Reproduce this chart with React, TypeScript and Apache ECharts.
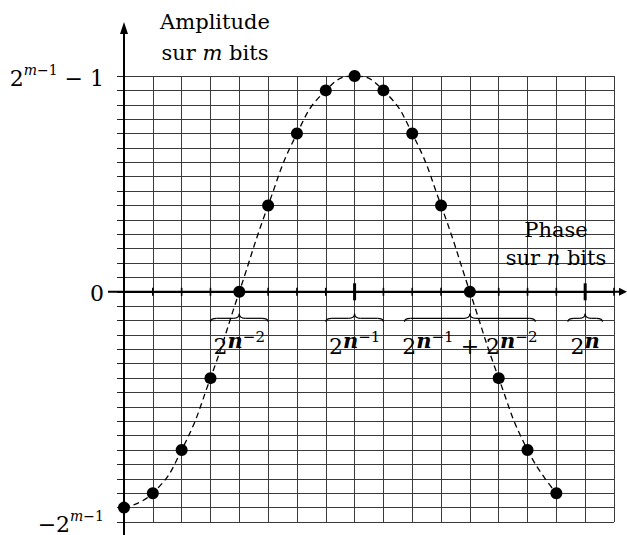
import React, { useEffect, useRef } from "react";
import * as echarts from "echarts";

// ---- data ----
const phaseSteps = [0, 1, 2, 3, 4, 5, 6, 7, 8, 9, 10, 11, 12, 13, 14, 15];
const amplitudes = [-15, -14, -11, -6, 0, 6, 11, 14, 15, 14, 11, 6, 0, -6, -11, -14];
const xMin = 0;
const xMax = 17;
const yMin = -16;
const yMax = 15;
const yTickLabels: Record<string, string> = {
  "15": "{b|2}{si|m}{s|−1}{b| − 1}",
  "0": "{b|0}",
  "-16": "{b|−2}{si|m}{s|−1}",
};
const xLabelTicks = [4, 8, 12, 16];
const xTickLabels = [
  "{b|2}{n|n}{s|−2}",
  "{b|2}{n|n}{s|−1}",
  "{b|2}{n|n}{s|−1}{b| + 2}{n|n}{s|−2}",
  "{b|2}{n|n}",
];
const braceRanges = [
  [3, 4, 5],
  [7, 8, 9],
  [9.73, 12, 14.27],
  [15.4, 16, 16.6],
];
const majorTicks = [8, 16];
const minorTicks = [1, 2, 3, 4, 5, 6, 7, 9, 10, 11, 12, 13, 14, 15, 17];

const FONT = "DejaVu Serif";
const BLUE = "#0a0aff";

export default function App() {
  const ref = useRef<HTMLDivElement>(null);
  useEffect(() => {
    document.body.style.margin = "0";
    const chart = echarts.init(ref.current!, null, { renderer: "svg" });
    const gridColor = "#3a3a3a";
    chart.setOption({
      animation: false,
      backgroundColor: "#fff",
      grid: { left: 124, right: 13, top: 76, bottom: 13, containLabel: false, outerBoundsMode: "none" },
      xAxis: {
        type: "value",
        min: xMin,
        max: xMax,
        interval: 1,
        axisLine: { show: true, onZero: true, lineStyle: { color: "#000", width: 2 } },
        axisTick: { show: false },
        splitLine: { show: true, lineStyle: { color: gridColor, width: 1 } },
        axisLabel: { show: false },
      },
      yAxis: {
        type: "value",
        min: yMin,
        max: yMax,
        interval: 1,
        axisLine: { show: false, onZero: true },
        axisTick: { show: true, length: 7, lineStyle: { color: "#222", width: 1 } },
        splitLine: { show: true, lineStyle: { color: gridColor, width: 1 } },
        axisLabel: {
          show: true,
          margin: 20,
          formatter: (v: number) => yTickLabels[String(v)] || "",
          rich: {
            b: { fontFamily: FONT, fontSize: 22, lineHeight: 26, verticalAlign: "bottom", color: "#000" },
            si: { fontFamily: FONT, fontSize: 14, fontStyle: "italic", lineHeight: 12, verticalAlign: "top", color: "#000" },
            s: { fontFamily: FONT, fontSize: 14, lineHeight: 12, verticalAlign: "top", color: "#000" },
          },
        },
      },
      series: [
        {
          type: "line",
          data: phaseSteps.map((x, i) => [x, amplitudes[i]]),
          smooth: 0.5,
          symbol: "circle",
          symbolSize: 12,
          itemStyle: { color: "#000" },
          lineStyle: { color: "#000", width: 1.3, type: [6, 4] },
          z: 5,
        },
      ],
    });

    const px = (x: number, y: number) => chart.convertToPixel({ gridIndex: 0 }, [x, y]) as number[];
    const [x0, y0] = px(0, 0);
    const graphics: any[] = [];
    const stroke = { stroke: "#000", lineWidth: 2 };
    // x axis extended with arrow
    graphics.push({ type: "line", z: 10, shape: { x1: x0 - 16, y1: y0, x2: 622, y2: y0 }, style: stroke });
    graphics.push({ type: "polygon", z: 10, shape: { points: [[627, y0], [619, y0 - 4], [619, y0 + 4]] }, style: { fill: "#000" } });
    // y axis extended with arrow
    graphics.push({ type: "line", z: 10, shape: { x1: x0, y1: 535, x2: x0, y2: 30 }, style: stroke });
    graphics.push({ type: "polygon", z: 10, shape: { points: [[x0, 22], [x0 - 4, 34], [x0 + 4, 34]] }, style: { fill: "#000" } });
    // ticks on x axis
    minorTicks.forEach((t) => {
      const [x] = px(t, 0);
      graphics.push({ type: "line", z: 10, shape: { x1: x, y1: y0 - 4, x2: x, y2: y0 + 4 }, style: { stroke: "#000", lineWidth: 1.6 } });
    });
    majorTicks.forEach((t) => {
      const [x] = px(t, 0);
      graphics.push({ type: "line", z: 10, shape: { x1: x, y1: y0 - 8.5, x2: x, y2: y0 + 8.5 }, style: { stroke: "#000", lineWidth: 3 } });
    });
    // braces
    const yE = y0 + 30;
    const yM = y0 + 26.5;
    const yP = y0 + 22;
    const r = 6;
    const bs = { stroke: "#000", lineWidth: 1.2, fill: "none" };
    braceRanges.forEach(([a, c, b]) => {
      const [xL] = px(a, 0);
      const [xc] = px(c, 0);
      const [xR] = px(b, 0);
      graphics.push({ type: "bezierCurve", z: 9, shape: { x1: xL, y1: yE, x2: xL + r, y2: yM, cpx1: xL, cpy1: yM }, style: bs });
      graphics.push({ type: "line", z: 9, shape: { x1: xL + r, y1: yM, x2: xc - r, y2: yM }, style: bs });
      graphics.push({ type: "bezierCurve", z: 9, shape: { x1: xc - r, y1: yM, x2: xc, y2: yP, cpx1: xc, cpy1: yM }, style: bs });
      graphics.push({ type: "bezierCurve", z: 9, shape: { x1: xc, y1: yP, x2: xc + r, y2: yM, cpx1: xc, cpy1: yM }, style: bs });
      graphics.push({ type: "line", z: 9, shape: { x1: xc + r, y1: yM, x2: xR - r, y2: yM }, style: bs });
      graphics.push({ type: "bezierCurve", z: 9, shape: { x1: xR - r, y1: yM, x2: xR, y2: yE, cpx1: xR, cpy1: yM }, style: bs });
    });
    // labels under braces
    const labelRich = {
      b: { fontFamily: FONT, fontSize: 22, lineHeight: 28, verticalAlign: "bottom", color: "#000" },
      n: { fontFamily: FONT, fontSize: 21, fontStyle: "italic", fontWeight: "bold", lineHeight: 10, verticalAlign: "top", color: BLUE },
      s: { fontFamily: FONT, fontSize: 15, lineHeight: 10, verticalAlign: "top", color: "#000" },
    };
    xLabelTicks.forEach((t, i) => {
      const [x] = px(t, 0);
      graphics.push({
        type: "text",
        z: 4,
        x,
        y: y0 + 38,
        style: { text: xTickLabels[i], rich: labelRich, align: "center", verticalAlign: "top", fontFamily: FONT, fontSize: 22 },
      });
    });
    // axis titles
    const titleRich = {
      a: { fontFamily: FONT, fontSize: 21, color: "#000" },
      i: { fontFamily: FONT, fontSize: 21, fontStyle: "italic", color: "#000" },
      n: { fontFamily: FONT, fontSize: 21, fontStyle: "italic", color: BLUE },
    };
    const title = (text: string, x: number, y: number) => ({
      type: "text",
      z: 8,
      x,
      y,
      style: { text, rich: titleRich, align: "center", verticalAlign: "middle", fontFamily: FONT, fontSize: 21 },
    });
    graphics.push(title("{a|Amplitude}", 215, 22));
    graphics.push(title("{a|sur }{i|m}{a| bits}", 215, 53));
    graphics.push(title("{a|Phase}", 556, 230));
    graphics.push(title("{a|sur }{n|n}{a| bits}", 556, 258));

    chart.setOption({ graphic: graphics });
    return () => chart.dispose();
  }, []);
  return <div ref={ref} style={{ width: 627, height: 535, position: "absolute", left: 0, top: 0 }} />;
}
